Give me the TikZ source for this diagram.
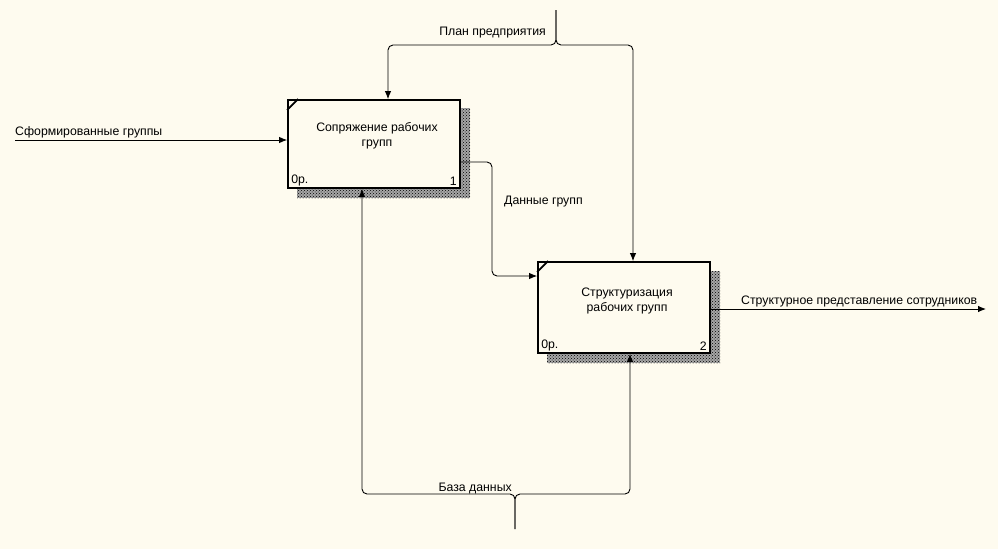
\documentclass[tikz,border=0pt]{standalone}
\usepackage{fontspec}
\setmainfont{Liberation Sans}
\usetikzlibrary{arrows.meta,patterns}
\definecolor{bg}{RGB}{254,251,239}
\tikzset{
  box/.style={draw=black,line width=1.8pt,fill=bg,minimum width=172pt,minimum height=#1,inner sep=0pt},
  shadowbase/.style={fill=black!35},
  shadow/.style={pattern=crosshatch dots,pattern color=black},
  lbl/.style={font=\fontsize{12.3}{15}\selectfont,inner sep=0pt},
  small/.style={font=\fontsize{12.3}{14}\selectfont,inner sep=1pt},
  conn/.style={draw=black,line width=0.9pt,rounded corners=5pt},
  arr/.style={conn,-{Latex[length=8pt,width=6.5pt]}},
  corner/.style={line width=1.8pt}
}
\begin{document}
\begin{tikzpicture}[x=1pt,y=-1pt]
\fill[bg] (0,0) rectangle (998,549);
\useasboundingbox (0,0) rectangle (998,549);
% shadows
\fill[shadowbase] (297,108) rectangle (470,198);
\fill[shadow] (297,108) rectangle (470,198);
\fill[shadowbase] (547,271) rectangle (720,363);
\fill[shadow] (547,271) rectangle (720,363);
% boxes
\node[box=88pt] (b1) at (374,144) {};
\node[box=91pt] (b2) at (624,307.5) {};
\draw[corner] ([yshift=-11pt]b1.north west) -- ([xshift=11pt]b1.north west);
\draw[corner] ([yshift=-11pt]b2.north west) -- ([xshift=11pt]b2.north west);
\node[lbl,align=center] (t1) at (377,136) {Сопряжение рабочих\\групп};
\node[lbl,align=center] (t2) at (627,300.5) {Структуризация\\рабочих групп};
\node[small,anchor=south west] (n1a) at ([shift={(3pt,2pt)}]b1.south west) {0р.};
\node[small,anchor=south east] (n1b) at ([shift={(-3pt,2pt)}]b1.south east) {1};
\node[small,anchor=south west] (n2a) at ([shift={(3pt,2pt)}]b2.south west) {0р.};
\node[small,anchor=south east] (n2b) at ([shift={(-3pt,2pt)}]b2.south east) {2};
% coordinates
\coordinate (top) at (556,10);
\coordinate (bot) at (515,529);
\coordinate (inL) at (15,140);
\coordinate (outR) at (986,309);
% control: plan
\draw[arr] (top) -- (556,45) -| (b1.north -| 388,0);
\draw[arr] (top) -- (556,45) -| (b2.north -| 633,0);
\node[lbl,anchor=base east] (lplan) at (546,35) {План предприятия};
% mechanism
\draw[arr] (bot) -- (515,494) -| (b1.south -| 362,0);
\draw[arr] (bot) -- (515,494) -| (b2.south -| 630,0);
\node[lbl,anchor=base east] (lbase) at (512,491) {База данных};
% input
\draw[arr,rounded corners=0pt] (inL) -- (inL -| b1.west);
\node[lbl,anchor=base west] (lin) at (15,135) {Сформированные группы};
% data
\draw[arr] (b1.east |- 0,162) -- (492,162) -- (492,276) -- (b2.west |- 0,276);
\node[lbl,anchor=base west] (ldata) at (504,204) {Данные групп};
% output
\draw[arr,rounded corners=0pt] (b2.east |- 0,309) -- (outR);
\node[lbl,anchor=base west] (lout) at (741,304) {Структурное представление сотрудников};
\end{tikzpicture}
\end{document}
